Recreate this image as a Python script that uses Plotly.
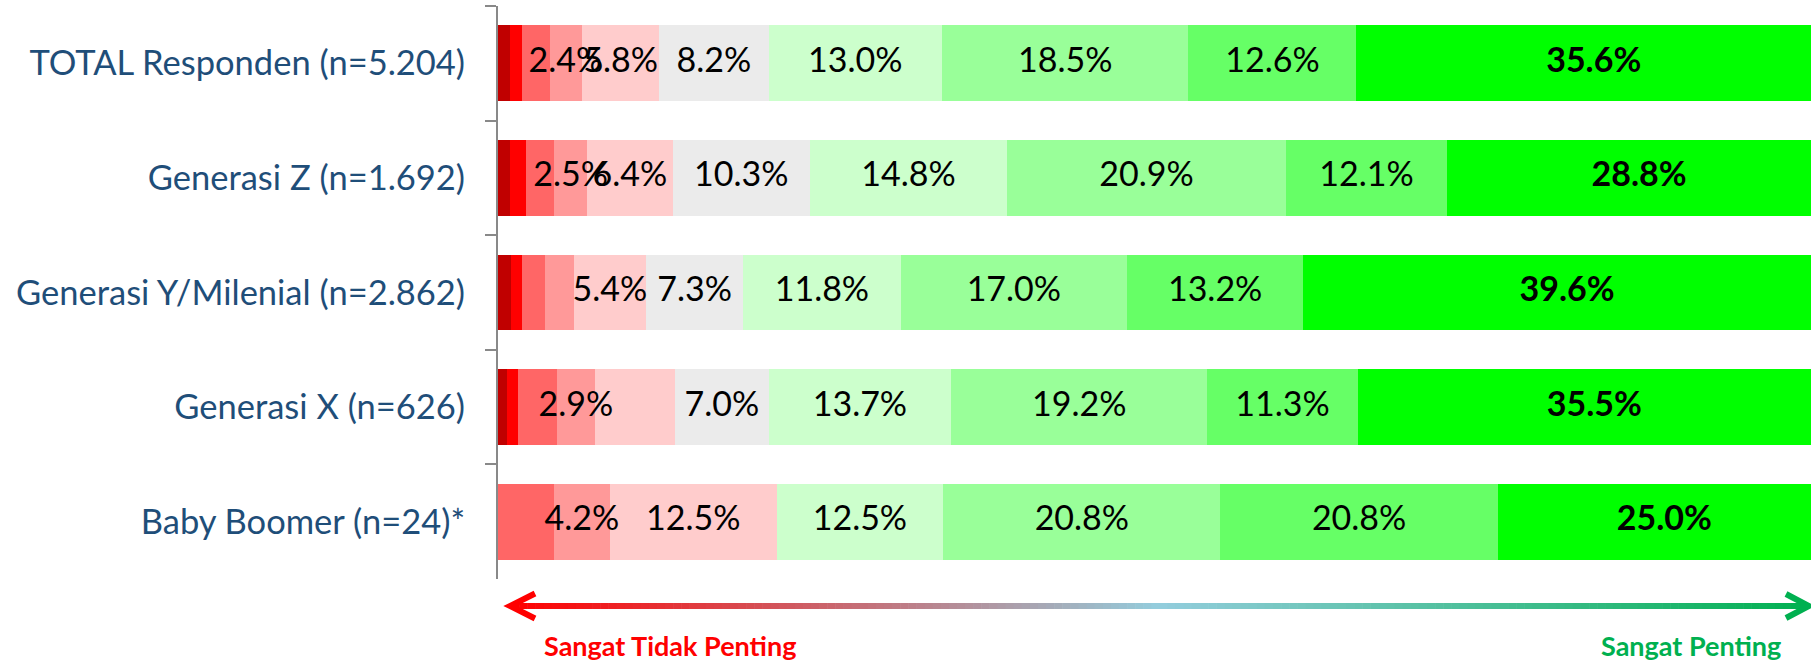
import plotly.graph_objects as go

# Respondent groups (top to bottom)
categories = [
    "TOTAL Responden (n=5.204)",
    "Generasi Z (n=1.692)",
    "Generasi Y/Milenial (n=2.862)",
    "Generasi X (n=626)",
    "Baby Boomer (n=24)*",
]

# Share of answers per scale point (1 = sangat tidak penting ... 10 = sangat penting), in %
scale_1 = [0.9, 0.9, 1.0, 0.7, 0.0]
scale_2 = [0.9, 1.2, 0.8, 0.8, 0.0]
scale_3 = [2.1, 2.1, 1.7, 2.9, 4.2]
scale_4 = [2.4, 2.5, 2.2, 2.9, 4.2]
scale_5 = [5.8, 6.4, 5.4, 6.0, 12.5]
scale_6 = [8.2, 10.3, 7.3, 7.0, 0.0]
scale_7 = [13.0, 14.8, 11.8, 13.7, 12.5]
scale_8 = [18.5, 20.9, 17.0, 19.2, 20.8]
scale_9 = [12.6, 12.1, 13.2, 11.3, 20.8]
scale_10 = [35.6, 28.8, 39.6, 35.5, 25.0]

series_names = ["1", "2", "3", "4", "5", "6", "7", "8", "9", "10"]
series_values = [scale_1, scale_2, scale_3, scale_4, scale_5,
                 scale_6, scale_7, scale_8, scale_9, scale_10]

# Which segments carry a value label (per scale point, per group)
label_1 = [False, False, False, False, False]
label_2 = [False, False, False, False, False]
label_3 = [False, False, False, False, False]
label_4 = [True, True, False, True, True]
label_5 = [True, True, True, False, True]
label_6 = [True, True, True, True, False]
label_7 = [True, True, True, True, True]
label_8 = [True, True, True, True, True]
label_9 = [True, True, True, True, True]
label_10 = [True, True, True, True, True]
series_labels = [label_1, label_2, label_3, label_4, label_5,
                 label_6, label_7, label_8, label_9, label_10]

colors = ["#C00000", "#FF0000", "#FF6666", "#FF9999", "#FFCCCC",
          "#EBEBEB", "#CCFFCC", "#99FF99", "#66FF66", "#00FF00"]

FONT = "Lato, Carlito, Calibri, sans-serif"
W, H = 1811, 664
M_L, M_R, M_T, M_B = 498, 0, 6, 85

fig = go.Figure()

for name, vals, col in zip(series_names, series_values, colors):
    fig.add_trace(go.Bar(
        y=categories, x=vals, name=name, orientation="h",
        marker=dict(color=col, line=dict(width=0)),
        hoverinfo="skip", showlegend=False,
    ))

# Value labels centred on each segment
cum = [0.0] * len(categories)
lab_x, lab_y, lab_t = [], [], []
for k, (vals, shows) in enumerate(zip(series_values, series_labels)):
    for i, (v, s) in enumerate(zip(vals, shows)):
        if s and v > 0:
            lab_x.append(cum[i] + v / 2)
            lab_y.append(categories[i])
            txt = f"{v:.1f}%"
            lab_t.append(f"<b>{txt}</b>" if k == len(series_values) - 1 else txt)
        cum[i] += v

fig.add_trace(go.Scatter(
    x=lab_x, y=lab_y, text=lab_t, mode="text",
    textfont=dict(family=FONT, size=34, color="#000000"),
    hoverinfo="skip", showlegend=False, cliponaxis=False,
))

# Gradient arrow under the bars (red -> light blue -> green)
plot_h = H - M_T - M_B
plot_w = W - M_L - M_R


def px_x(x):
    return (x - M_L) / plot_w


def px_y(y):
    return (H - M_B - y) / plot_h


stops = [(0.0, (255, 0, 0)), (0.5, (147, 205, 221)), (1.0, (0, 176, 80))]


def grad(t):
    for (t0, c0), (t1, c1) in zip(stops[:-1], stops[1:]):
        if t <= t1:
            f = (t - t0) / (t1 - t0)
            return "rgb(%d,%d,%d)" % tuple(round(a + (b - a) * f) for a, b in zip(c0, c1))
    return "rgb(%d,%d,%d)" % stops[-1][1]


shapes = []
x_start, x_end, y_arrow = 511, 1808, 606
n_seg = 160
for j in range(n_seg):
    a = x_start + (x_end - x_start) * j / n_seg
    b = x_start + (x_end - x_start) * (j + 1) / n_seg + 0.6
    shapes.append(dict(
        type="line", xref="paper", yref="paper",
        x0=px_x(a), x1=px_x(min(b, x_end)), y0=px_y(y_arrow), y1=px_y(y_arrow),
        line=dict(color=grad((j + 0.5) / n_seg), width=6),
    ))
shapes.append(dict(
    type="path", xref="paper", yref="paper", xsizemode="pixel", ysizemode="pixel",
    xanchor=px_x(x_start - 1), yanchor=px_y(y_arrow),
    path="M 25,12.5 L 0,0 L 25,-12.5", line=dict(color="rgb(255,0,0)", width=6),
))
shapes.append(dict(
    type="path", xref="paper", yref="paper", xsizemode="pixel", ysizemode="pixel",
    xanchor=px_x(x_end + 1), yanchor=px_y(y_arrow),
    path="M -23,12 L 0,0 L -23,-12", line=dict(color="rgb(0,176,80)", width=6),
))

annotations = [
    dict(text="<b>Sangat Tidak Penting</b>", xref="paper", yref="paper",
         x=px_x(670), y=px_y(663), xanchor="center", yanchor="bottom", showarrow=False,
         borderpad=0, font=dict(family=FONT, size=27, color="#FF0000")),
    dict(text="<b>Sangat Penting</b>", xref="paper", yref="paper",
         x=px_x(1691), y=px_y(663), xanchor="center", yanchor="bottom", showarrow=False,
         borderpad=0, font=dict(family=FONT, size=27, color="#00B050")),
]

fig.update_layout(
    width=W, height=H, autosize=False,
    margin=dict(l=M_L, r=M_R, t=M_T, b=M_B, autoexpand=False),
    barmode="stack", bargap=0.337,
    paper_bgcolor="white", plot_bgcolor="white",
    font=dict(family=FONT),
    shapes=shapes, annotations=annotations,
    hovermode=False,
)
fig.update_xaxes(range=[0, 98.5], visible=False, fixedrange=True)
fig.update_yaxes(
    type="category", categoryorder="array", categoryarray=categories,
    autorange="reversed", showline=True, linecolor="#898989", linewidth=2,
    ticks="outside", ticklen=11, tickwidth=2, tickcolor="#898989",
    tickson="boundaries", ticklabelstandoff=24,
    tickfont=dict(family=FONT, size=34.5, color="#1F4E79"),
    showgrid=False, zeroline=False, fixedrange=True,
)

fig.write_html("out.html", config={"displayModeBar": False})
